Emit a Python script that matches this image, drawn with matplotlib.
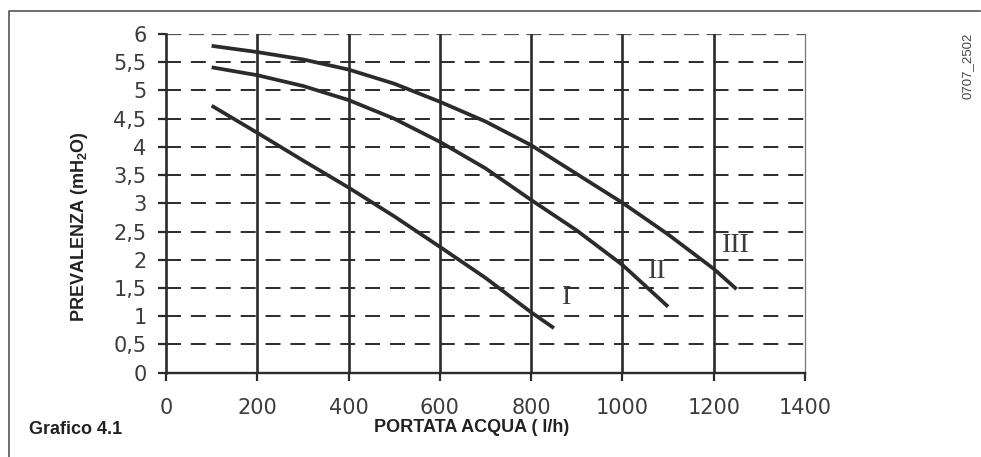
import matplotlib
matplotlib.use("Agg")
import matplotlib.pyplot as plt
from matplotlib.lines import Line2D

plt.rcParams['mathtext.fontset'] = 'custom'
plt.rcParams['mathtext.rm'] = 'Liberation Sans:bold'
plt.rcParams['mathtext.it'] = 'Liberation Sans:bold'
plt.rcParams['mathtext.bf'] = 'Liberation Sans:bold'
plt.rcParams['mathtext.default'] = 'rm'

# ---- data ----
flow_I = [100, 200, 300, 400, 500, 600, 700, 800, 850]
head_I = [4.73, 4.25, 3.76, 3.28, 2.77, 2.23, 1.68, 1.07, 0.79]

flow_II = [100, 200, 300, 400, 500, 600, 700, 800, 900, 1000, 1100]
head_II = [5.41, 5.27, 5.08, 4.83, 4.50, 4.09, 3.62, 3.06, 2.52, 1.91, 1.17]

flow_III = [100, 200, 300, 400, 500, 600, 700, 800, 900, 1000, 1100, 1200, 1250]
head_III = [5.79, 5.68, 5.55, 5.37, 5.12, 4.80, 4.45, 4.03, 3.52, 3.01, 2.45, 1.84, 1.48]

curve_labels = ["I", "II", "III"]
label_pos_x = [877, 1077, 1249]
label_pos_y = [1.34, 1.79, 2.26]

x_ticks = [0, 200, 400, 600, 800, 1000, 1200, 1400]
y_ticks = [0, 0.5, 1, 1.5, 2, 2.5, 3, 3.5, 4, 4.5, 5, 5.5, 6]
y_ticklabels = ["0", "0,5", "1", "1,5", "2", "2,5", "3", "3,5", "4", "4,5", "5", "5,5", "6"]

W, H = 981, 457
fig = plt.figure(figsize=(W / 100, H / 100), dpi=100)
ax = fig.add_axes([166 / W, 1 - 372.7 / H, (805 - 166) / W, (372.7 - 34) / H])
ax.set_xlim(0, 1400)
ax.set_ylim(0, 6)

dark = '#2b2b2b'
grey = '#3c3c3c'

# horizontal dashed grid
for y in y_ticks[1:-1]:
    ax.axhline(y, color=dark, lw=1.4, linestyle=(0, (7.7, 5.1)), zorder=1)
ax.axhline(6, color='#555555', lw=0.9, linestyle=(0, (12, 6)), zorder=1)
# vertical solid grid
for x in x_ticks[1:-1]:
    ax.axvline(x, color=dark, lw=1.9, zorder=1)

# curves
for fx, hy in [(flow_I, head_I), (flow_II, head_II), (flow_III, head_III)]:
    ax.plot(fx, hy, color=dark, lw=2.7, solid_capstyle='butt', zorder=3)

for lab, lx, ly in zip(curve_labels, label_pos_x, label_pos_y):
    ax.text(lx, ly, lab, fontsize=20, family='Liberation Serif', color=grey,
            ha='center', va='center', zorder=4)

ax.set_xticks(x_ticks)
ax.set_yticks(y_ticks)
ax.set_yticklabels(y_ticklabels)
ax.tick_params(axis='both', direction='out', length=6, width=1.6, color=dark,
               labelsize=15, labelcolor=grey)
ax.tick_params(axis='x', pad=12)
ax.tick_params(axis='y', pad=8)
for t in ax.get_xticklabels() + ax.get_yticklabels():
    t.set_family('DejaVu Sans')

ax.spines['top'].set_visible(False)
ax.spines['left'].set_color(dark)
ax.spines['left'].set_linewidth(1.9)
ax.spines['bottom'].set_color(dark)
ax.spines['bottom'].set_linewidth(1.7)
ax.spines['right'].set_color('#777777')
ax.spines['right'].set_linewidth(0.9)

# labels
fig.text(80 / W, 1 - 227 / H, 'PREVALENZA (mH$_2$O)', rotation=90, fontsize=13,
         fontweight='bold', family='Liberation Sans', color='#222222',
         ha='center', va='center')
fig.text(472 / W, 1 - 428 / H, 'PORTATA ACQUA ( l/h)', fontsize=13,
         fontweight='bold', family='Liberation Sans', color='#222222',
         ha='center', va='center')
fig.text(29 / W, 1 - 430 / H, 'Grafico 4.1', fontsize=13,
         fontweight='bold', family='Liberation Sans', color='#222222',
         ha='left', va='center')
fig.text(968 / W, 1 - 66 / H, '0707_2502', rotation=90, fontsize=9.5,
         family='Liberation Sans', color='#444444', ha='center', va='center')

# outer frame (top and left edges)
fig.add_artist(Line2D([9 / W, 9 / W, 980 / W], [0, 1 - 11 / H, 1 - 11 / H],
                      transform=fig.transFigure, color='#555555', lw=1.2))

fig.savefig('out.png', dpi=100)
